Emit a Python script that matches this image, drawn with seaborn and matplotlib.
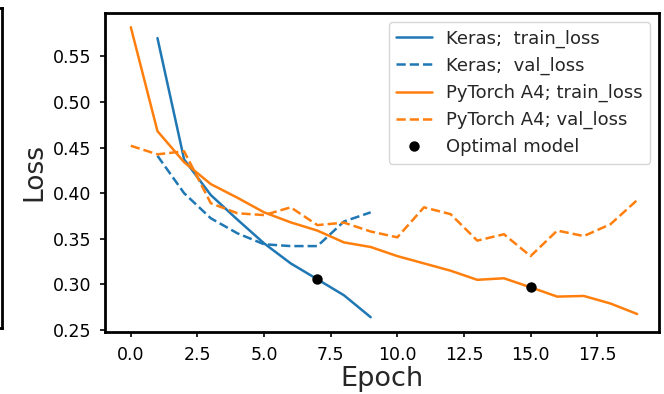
import matplotlib
matplotlib.use("Agg")
import matplotlib.pyplot as plt
import seaborn as sns

# ---- data ----
keras_epochs = [1, 2, 3, 4, 5, 6, 7, 8, 9]
keras_train = [0.570, 0.437, 0.398, 0.371, 0.345, 0.323, 0.3056, 0.288, 0.264]
keras_val = [0.441, 0.400, 0.3725, 0.356, 0.344, 0.342, 0.342, 0.369, 0.379]

torch_epochs = list(range(20))
torch_train = [0.582, 0.468, 0.434, 0.410, 0.395, 0.379, 0.368, 0.359, 0.346, 0.341,
               0.331, 0.323, 0.315, 0.305, 0.3067, 0.2968, 0.2866, 0.2873, 0.279, 0.2675]
torch_val = [0.452, 0.4426, 0.446, 0.389, 0.378, 0.376, 0.3845, 0.365, 0.3677, 0.358,
             0.3516, 0.3845, 0.377, 0.348, 0.355, 0.331, 0.359, 0.353, 0.366, 0.3925]

opt_epochs = [7, 15]
opt_loss = [0.3056, 0.2968]

labels = ["Keras;  train_loss", "Keras;  val_loss",
          "PyTorch A4; train_loss", "PyTorch A4; val_loss", "Optimal model"]
x_ticks = [0.0, 2.5, 5.0, 7.5, 10.0, 12.5, 15.0, 17.5]
y_ticks = [0.25, 0.30, 0.35, 0.40, 0.45, 0.50, 0.55]

sns.set_style("ticks")
plt.rcParams["font.family"] = ["DejaVu Sans"]
plt.rcParams["font.size"] = 12
plt.rcParams["axes.edgecolor"] = "black"
plt.rcParams["axes.linewidth"] = 2.0
plt.rcParams["xtick.color"] = "black"
plt.rcParams["ytick.color"] = "black"

blue = "#1f77b4"
orange = "#ff7f0e"
lw = 1.8

fig = plt.figure(figsize=(6.64, 3.94), dpi=100)

# frame of the neighbouring panel visible at the far left
ax0 = fig.add_axes([-0.3, 0.167, 0.3035, 0.8125])
ax0.set_xticks([])
ax0.set_yticks([])

ax = fig.add_axes([0.1581, 0.1581, 0.9929 - 0.1581, 0.967 - 0.1581])

sns.lineplot(x=keras_epochs, y=keras_train, ax=ax, color=blue, linewidth=lw,
             label=labels[0])
sns.lineplot(x=keras_epochs, y=keras_val, ax=ax, color=blue, linewidth=lw,
             linestyle="--", label=labels[1])
sns.lineplot(x=torch_epochs, y=torch_train, ax=ax, color=orange, linewidth=lw,
             label=labels[2])
sns.lineplot(x=torch_epochs, y=torch_val, ax=ax, color=orange, linewidth=lw,
             linestyle="--", label=labels[3])
sns.lineplot(x=opt_epochs, y=opt_loss, ax=ax, color="black", linestyle="none",
             marker="o", markersize=7.5, markeredgewidth=0, label=labels[4])

ax.set_xlim(-0.97, 19.83)
ax.set_ylim(0.2481, 0.5976)
ax.set_xticks(x_ticks)
ax.set_yticks(y_ticks)
ax.tick_params(labelsize=12.5, width=1.2, length=3.5, pad=6.5)
ax.set_xlabel("Epoch", fontsize=19.5, labelpad=1.5)
ax.set_ylabel("Loss", fontsize=19)

leg = ax.legend(loc="upper right", fontsize=13, frameon=True, labelspacing=0.5)

fig.savefig("out.png", dpi=100)
